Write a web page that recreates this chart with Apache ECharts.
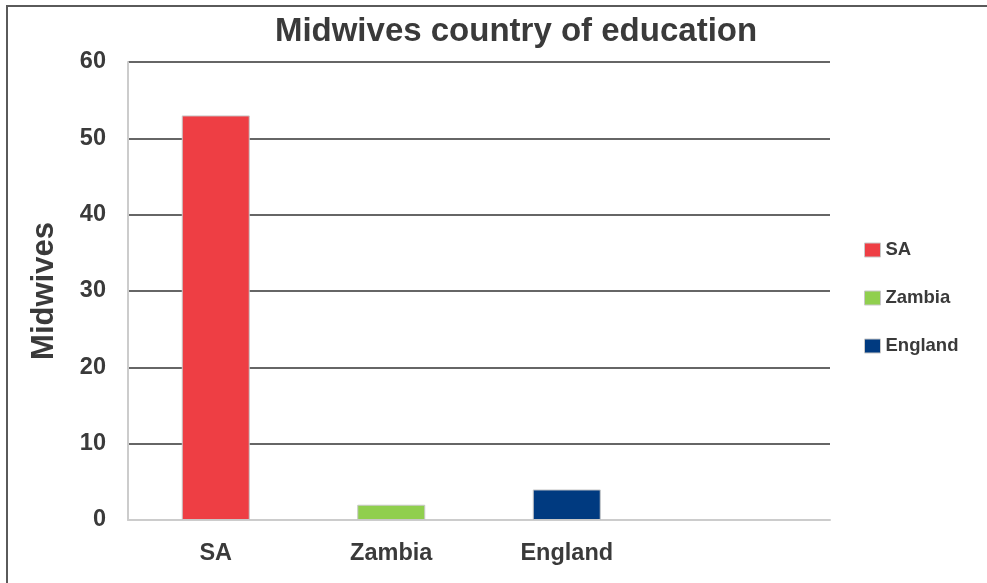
<!DOCTYPE html>
<html>
<head>
<meta charset="utf-8">
<script src="https://cdn.jsdelivr.net/npm/echarts@6/dist/echarts.min.js"></script>
<style>html,body{margin:0;padding:0;background:#fff}#c{width:987px;height:583px}</style>
</head>
<body>
<div id="c"></div>
<script>
const categories = ['SA', 'Zambia', 'England', ''];
const seriesNames = ['SA', 'Zambia', 'England'];
const values = [53, 2, 4];
const colors = ['#EE3E44', '#90CF4E', '#003A80'];
const yTicks = [0, 10, 20, 30, 40, 50, 60];

const FONT = 'Liberation Sans, Arial, sans-serif';
const chart = echarts.init(document.getElementById('c'));
const series = seriesNames.map((name, i) => ({
  name: name,
  type: 'bar',
  stack: 'all',
  barWidth: 68,
  data: categories.map((c, j) => (j === i ? values[i] : '-')),
  itemStyle: { color: colors[i], borderColor: '#c8c8c8', borderWidth: 1 }
}));

chart.setOption({
  animation: false,
  backgroundColor: '#fff',
  graphic: [{
    type: 'rect', silent: true,
    shape: { x: 7, y: 6, width: 1000, height: 700 },
    style: { fill: 'none', stroke: '#5a5a5a', lineWidth: 2 }
  }],
  title: {
    text: 'Midwives country of education',
    left: 511, top: 10, textAlign: 'center',
    textStyle: { fontFamily: FONT, fontSize: 33, fontWeight: 'bold', color: '#3a3a3a' }
  },
  legend: {
    orient: 'vertical', left: 864, top: 240, padding: 0,
    itemWidth: 16, itemHeight: 14, itemGap: 28,
    icon: 'rect',
    data: seriesNames,
    textStyle: { fontFamily: FONT, fontSize: 18.5, lineHeight: 20, fontWeight: 'bold', color: '#3a3a3a' },
    itemStyle: { borderColor: '#c8c8c8', borderWidth: 1 }
  },
  grid: { left: 128, right: 157, top: 62, bottom: 63 },
  xAxis: {
    type: 'category',
    data: categories,
    axisLine: { show: true, lineStyle: { color: '#cccccc', width: 2 } },
    axisTick: { show: false },
    axisLabel: { margin: 22, fontFamily: FONT, fontSize: 23.5, fontWeight: 'bold', color: '#3a3a3a' }
  },
  yAxis: {
    type: 'value', min: 0, max: 60, interval: 10,
    name: 'Midwives', nameLocation: 'middle', nameGap: 68,
    nameTextStyle: { fontFamily: FONT, fontSize: 31, fontWeight: 'bold', color: '#3a3a3a' },
    axisLine: { show: true, lineStyle: { color: '#cccccc', width: 2 } },
    axisTick: { show: false },
    axisLabel: {
      margin: 22, fontFamily: FONT, fontSize: 23.5, fontWeight: 'bold', color: '#3a3a3a',
      formatter: v => (yTicks.includes(v) ? String(v) : '')
    },
    splitLine: { show: true, lineStyle: { color: '#666666', width: 2 } }
  },
  series: series
});
</script>
</body>
</html>
